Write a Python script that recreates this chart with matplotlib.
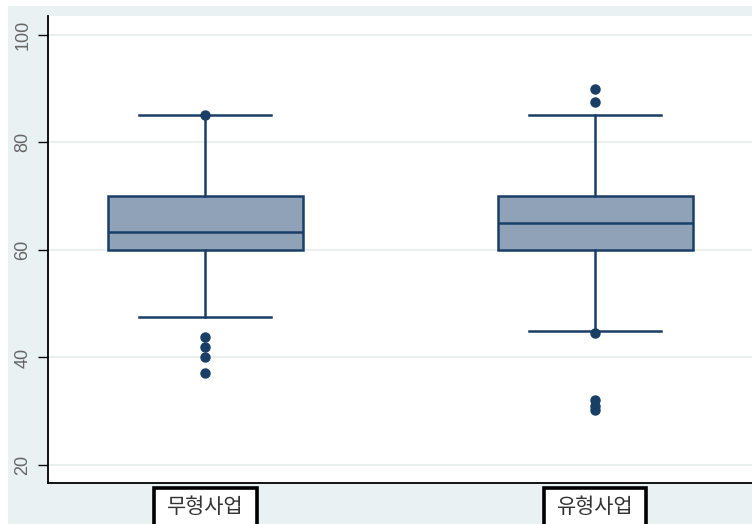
import matplotlib.pyplot as plt
from matplotlib.patches import Rectangle

# group labels and box statistics
groups = ['무형사업', '유형사업']
q1 = [60, 60]
med = [63.4, 65.0]
q3 = [70, 70]
whis_lo = [47.5, 45.0]
whis_hi = [85, 85]
outliers = [
    [85, 43.8, 42.0, 40.0, 37.1],
    [90, 87.5, 44.5, 32.0, 31.0, 30.2],
]
yticks = [20, 40, 60, 80, 100]

navy = '#1a3f66'
fill = '#8fa2b7'
bg = '#e9f1f3'

fig = plt.figure(figsize=(7.52, 5.24), dpi=100, facecolor=bg)
# white frame strip at the top and left of the picture
fig.patches.append(Rectangle((0, 1 - 6 / 524), 1, 6 / 524, transform=fig.transFigure,
                             facecolor='white', edgecolor='none', zorder=0))
fig.patches.append(Rectangle((0, 0), 8 / 752, 1, transform=fig.transFigure,
                             facecolor='white', edgecolor='none', zorder=0))

ax = fig.add_axes([48 / 752, 41 / 524, 1 - 48 / 752, (483 - 16) / 524])
ax.set_facecolor('white')

stats = []
for i in range(len(groups)):
    stats.append(dict(q1=q1[i], med=med[i], q3=q3[i], whislo=whis_lo[i],
                      whishi=whis_hi[i], fliers=outliers[i], label=groups[i]))

ax.bxp(stats, positions=[1, 2], widths=0.5, capwidths=0.338, patch_artist=True,
       boxprops=dict(facecolor=fill, edgecolor=navy, linewidth=1.8),
       medianprops=dict(color=navy, linewidth=1.8),
       whiskerprops=dict(color=navy, linewidth=1.8),
       capprops=dict(color=navy, linewidth=1.8),
       flierprops=dict(marker='o', markerfacecolor=navy, markeredgecolor=navy,
                       markersize=6.5))

ax.set_xlim(0.597, 2.4026)
ax.set_ylim(16.65, 103.5)
ax.set_yticks(yticks)
ax.set_yticklabels([str(t) for t in yticks], rotation=90, va='center',
                   fontsize=13, color='#666666', family='Liberation Sans')
ax.yaxis.grid(True, color='#e6ecee', linewidth=1.2)
ax.set_axisbelow(True)
ax.tick_params(axis='y', length=7, width=1.0, pad=5)
ax.tick_params(axis='x', length=0)
ax.set_xticks([])

for s in ['top', 'right']:
    ax.spines[s].set_visible(False)
for s in ['left', 'bottom']:
    ax.spines[s].set_linewidth(1.3)
    ax.spines[s].set_color('black')

# boxed category labels below the plot
xform = ax.get_xaxis_transform()
for pos, name in zip([1, 2], groups):
    ax.add_patch(Rectangle((pos - 0.132, -0.2), 0.264, 0.2 - 5 / 467, transform=xform,
                           facecolor='white', edgecolor='black', linewidth=2.6,
                           clip_on=False))
    ax.text(pos, -24 / 467, name, transform=xform, ha='center', va='center',
            fontsize=15, family=['Noto Sans CJK KR', 'DejaVu Sans'], color='#333333',
            clip_on=False)

fig.savefig('out.png', dpi=100, facecolor=bg)
